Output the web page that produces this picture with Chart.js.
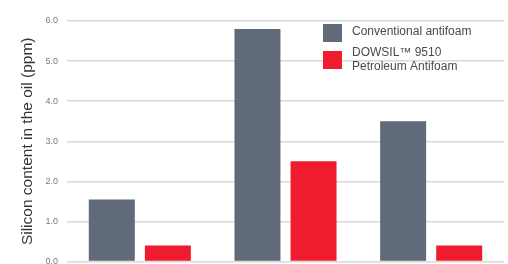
<!DOCTYPE html>
<html>
<head>
<meta charset="utf-8">
<script src="https://cdn.jsdelivr.net/npm/chart.js@4/dist/chart.umd.min.js"></script>
<style>
  html, body { margin: 0; padding: 0; background: #fff; overflow: hidden; width: 508px; height: 264px; }
  #wrap { position: relative; width: 508px; height: 276px; }
</style>
</head>
<body>
<div id="wrap"><canvas id="chart" width="508" height="276"></canvas></div>
<script>
const categories = ["Test A", "Test B", "Test C"];
const conventionalValues = [1.55, 5.8, 3.5];
const dowsilValues = [0.4, 2.5, 0.4];
const tickValues = [0, 1, 2, 3, 4, 5, 6];
const seriesNames = ["Conventional antifoam", ["DOWSIL\u2122 9510", "Petroleum Antifoam"]];
const seriesColors = ["#606a79", "#ee1c2e"];

const legendPlugin = {
  id: "boxLegend",
  afterDatasetsDraw(chart) {
    const ctx = chart.ctx;
    ctx.save();
    ctx.font = "12px 'Liberation Sans', Arial, sans-serif";
    ctx.textBaseline = "middle";
    ctx.textAlign = "left";
    const rows = [
      { top: 24, lines: [32] },
      { top: 51, lines: [53, 67] }
    ];
    rows.forEach((row, i) => {
      ctx.fillStyle = seriesColors[i];
      ctx.fillRect(323, row.top, 19, 18);
      ctx.fillStyle = "#4a4a4a";
      const text = [].concat(seriesNames[i]);
      text.forEach((line, j) => ctx.fillText(line, 352, row.lines[j]));
    });
    ctx.restore();
  }
};

new Chart(document.getElementById("chart"), {
  type: "bar",
  data: {
    labels: categories,
    datasets: [
      {
        label: "Conventional antifoam",
        data: conventionalValues,
        backgroundColor: seriesColors[0],
        categoryPercentage: 0.77,
        barPercentage: 0.82
      },
      {
        label: "DOWSIL\u2122 9510 Petroleum Antifoam",
        data: dowsilValues,
        backgroundColor: seriesColors[1],
        categoryPercentage: 0.77,
        barPercentage: 0.82
      }
    ]
  },
  options: {
    responsive: false,
    animation: false,
    layout: { padding: { top: 21, bottom: 12, right: 4, left: 0 } },
    plugins: {
      legend: { display: false },
      tooltip: { enabled: false }
    },
    scales: {
      x: {
        display: false
      },
      y: {
        min: 0,
        max: 6,
        afterBuildTicks: (scale) => {
          scale.ticks = tickValues.map((v) => ({ value: v }));
        },
        afterFit: (scale) => {
          scale.width = 67;
        },
        border: { display: false },
        grid: {
          color: "#d9d9d9",
          lineWidth: 1.5,
          drawTicks: false
        },
        ticks: {
          padding: 9,
          color: "#7a7a7a",
          font: { family: "'Liberation Sans', Arial, sans-serif", size: 9 },
          callback: (value) => Number(value).toFixed(1)
        },
        title: {
          display: true,
          text: "Silicon content in the oil (ppm)",
          color: "#333",
          font: { family: "'Liberation Sans', Arial, sans-serif", size: 15.5 },
          padding: { top: 18, bottom: 0 }
        }
      }
    }
  },
  plugins: [legendPlugin]
});
</script>
</body>
</html>
